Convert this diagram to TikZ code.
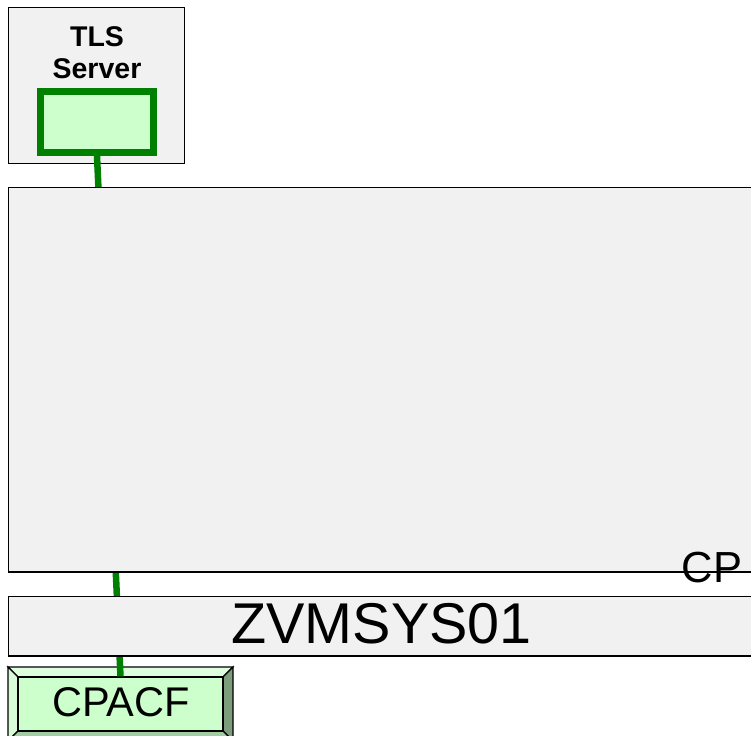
\documentclass[tikz,border=0pt]{standalone}
\usepackage{fontspec}
\setmainfont{Liberation Sans}
\definecolor{boxgray}{HTML}{F1F1F1}
\definecolor{lgreen}{HTML}{CCFFCC}
\definecolor{dgreen}{HTML}{008000}
\definecolor{bevtop}{HTML}{DDFFDD}
\definecolor{bevleft}{HTML}{D6FBD6}
\definecolor{bevright}{HTML}{7D9D7D}
\definecolor{bevbot}{HTML}{A3CCA3}
\begin{document}
\begin{tikzpicture}[x=1bp,y=-1bp,
  graybox/.style={draw=black,fill=boxgray,line width=1.3bp,inner sep=0pt,outer sep=0pt},
  greenbox/.style={draw=dgreen,fill=lgreen,line width=7bp,inner sep=0pt},
  bevel/.style={draw=black,line width=1.2bp,line join=miter},
  link/.style={draw=dgreen,line width=6.5bp},
  txt/.style={inner sep=0pt,text=black}]
\useasboundingbox (0,0) rectangle (751,736);
% TLS server
\node[graybox,minimum width=176bp,minimum height=156bp] (tls) at (96.5,85.5) {};
\node[txt,anchor=base,font=\bfseries\fontsize{28.5bp}{31bp}\selectfont] (tlsA) at (97,47) {TLS};
\node[txt,anchor=base,font=\bfseries\fontsize{28.5bp}{31bp}\selectfont] (tlsB) at (97,78) {Server};
\node[greenbox,minimum width=113bp,minimum height=61bp] (grn) at (97,122) {};
% CPACF beveled box
\coordinate (o1) at (8,667);
\coordinate (o2) at (233,667);
\coordinate (o3) at (233,741);
\coordinate (o4) at (8,741);
\coordinate (i1) at (18,677);
\coordinate (i2) at (223,677);
\coordinate (i3) at (223,731);
\coordinate (i4) at (18,731);
\filldraw[bevel,fill=bevtop] (o1) -- (o2) -- (i2) -- (i1) -- cycle;
\filldraw[bevel,fill=bevleft] (o1) -- (i1) -- (i4) -- (o4) -- cycle;
\filldraw[bevel,fill=bevright] (o2) -- (o3) -- (i3) -- (i2) -- cycle;
\filldraw[bevel,fill=bevbot] (o4) -- (i4) -- (i3) -- (o3) -- cycle;
\node[draw=black,fill=lgreen,line width=1.2bp,inner sep=0pt,minimum width=205bp,minimum height=54bp] (cpacf) at (120.5,704) {};
% connector
\draw[link] (grn.south) -- (cpacf.north);
% system boxes
\node[graybox,minimum width=746bp,minimum height=384.5bp] (cp) at (381.5,379.75) {};
\node[graybox,minimum width=746bp,minimum height=59.5bp] (zvm) at (381.5,626.25) {};
% labels
\node[txt,font=\fontsize{43.5bp}{46bp}\selectfont] (cplabel) at (712,567.5) {CP};
\node[txt,font=\fontsize{57.5bp}{60bp}\selectfont] (zvmlabel) at (381.5,623.5) {ZVMSYS01};
\node[txt,font=\fontsize{41.5bp}{44bp}\selectfont] (cpacflabel) at (121,702.5) {CPACF};
\end{tikzpicture}
\end{document}
